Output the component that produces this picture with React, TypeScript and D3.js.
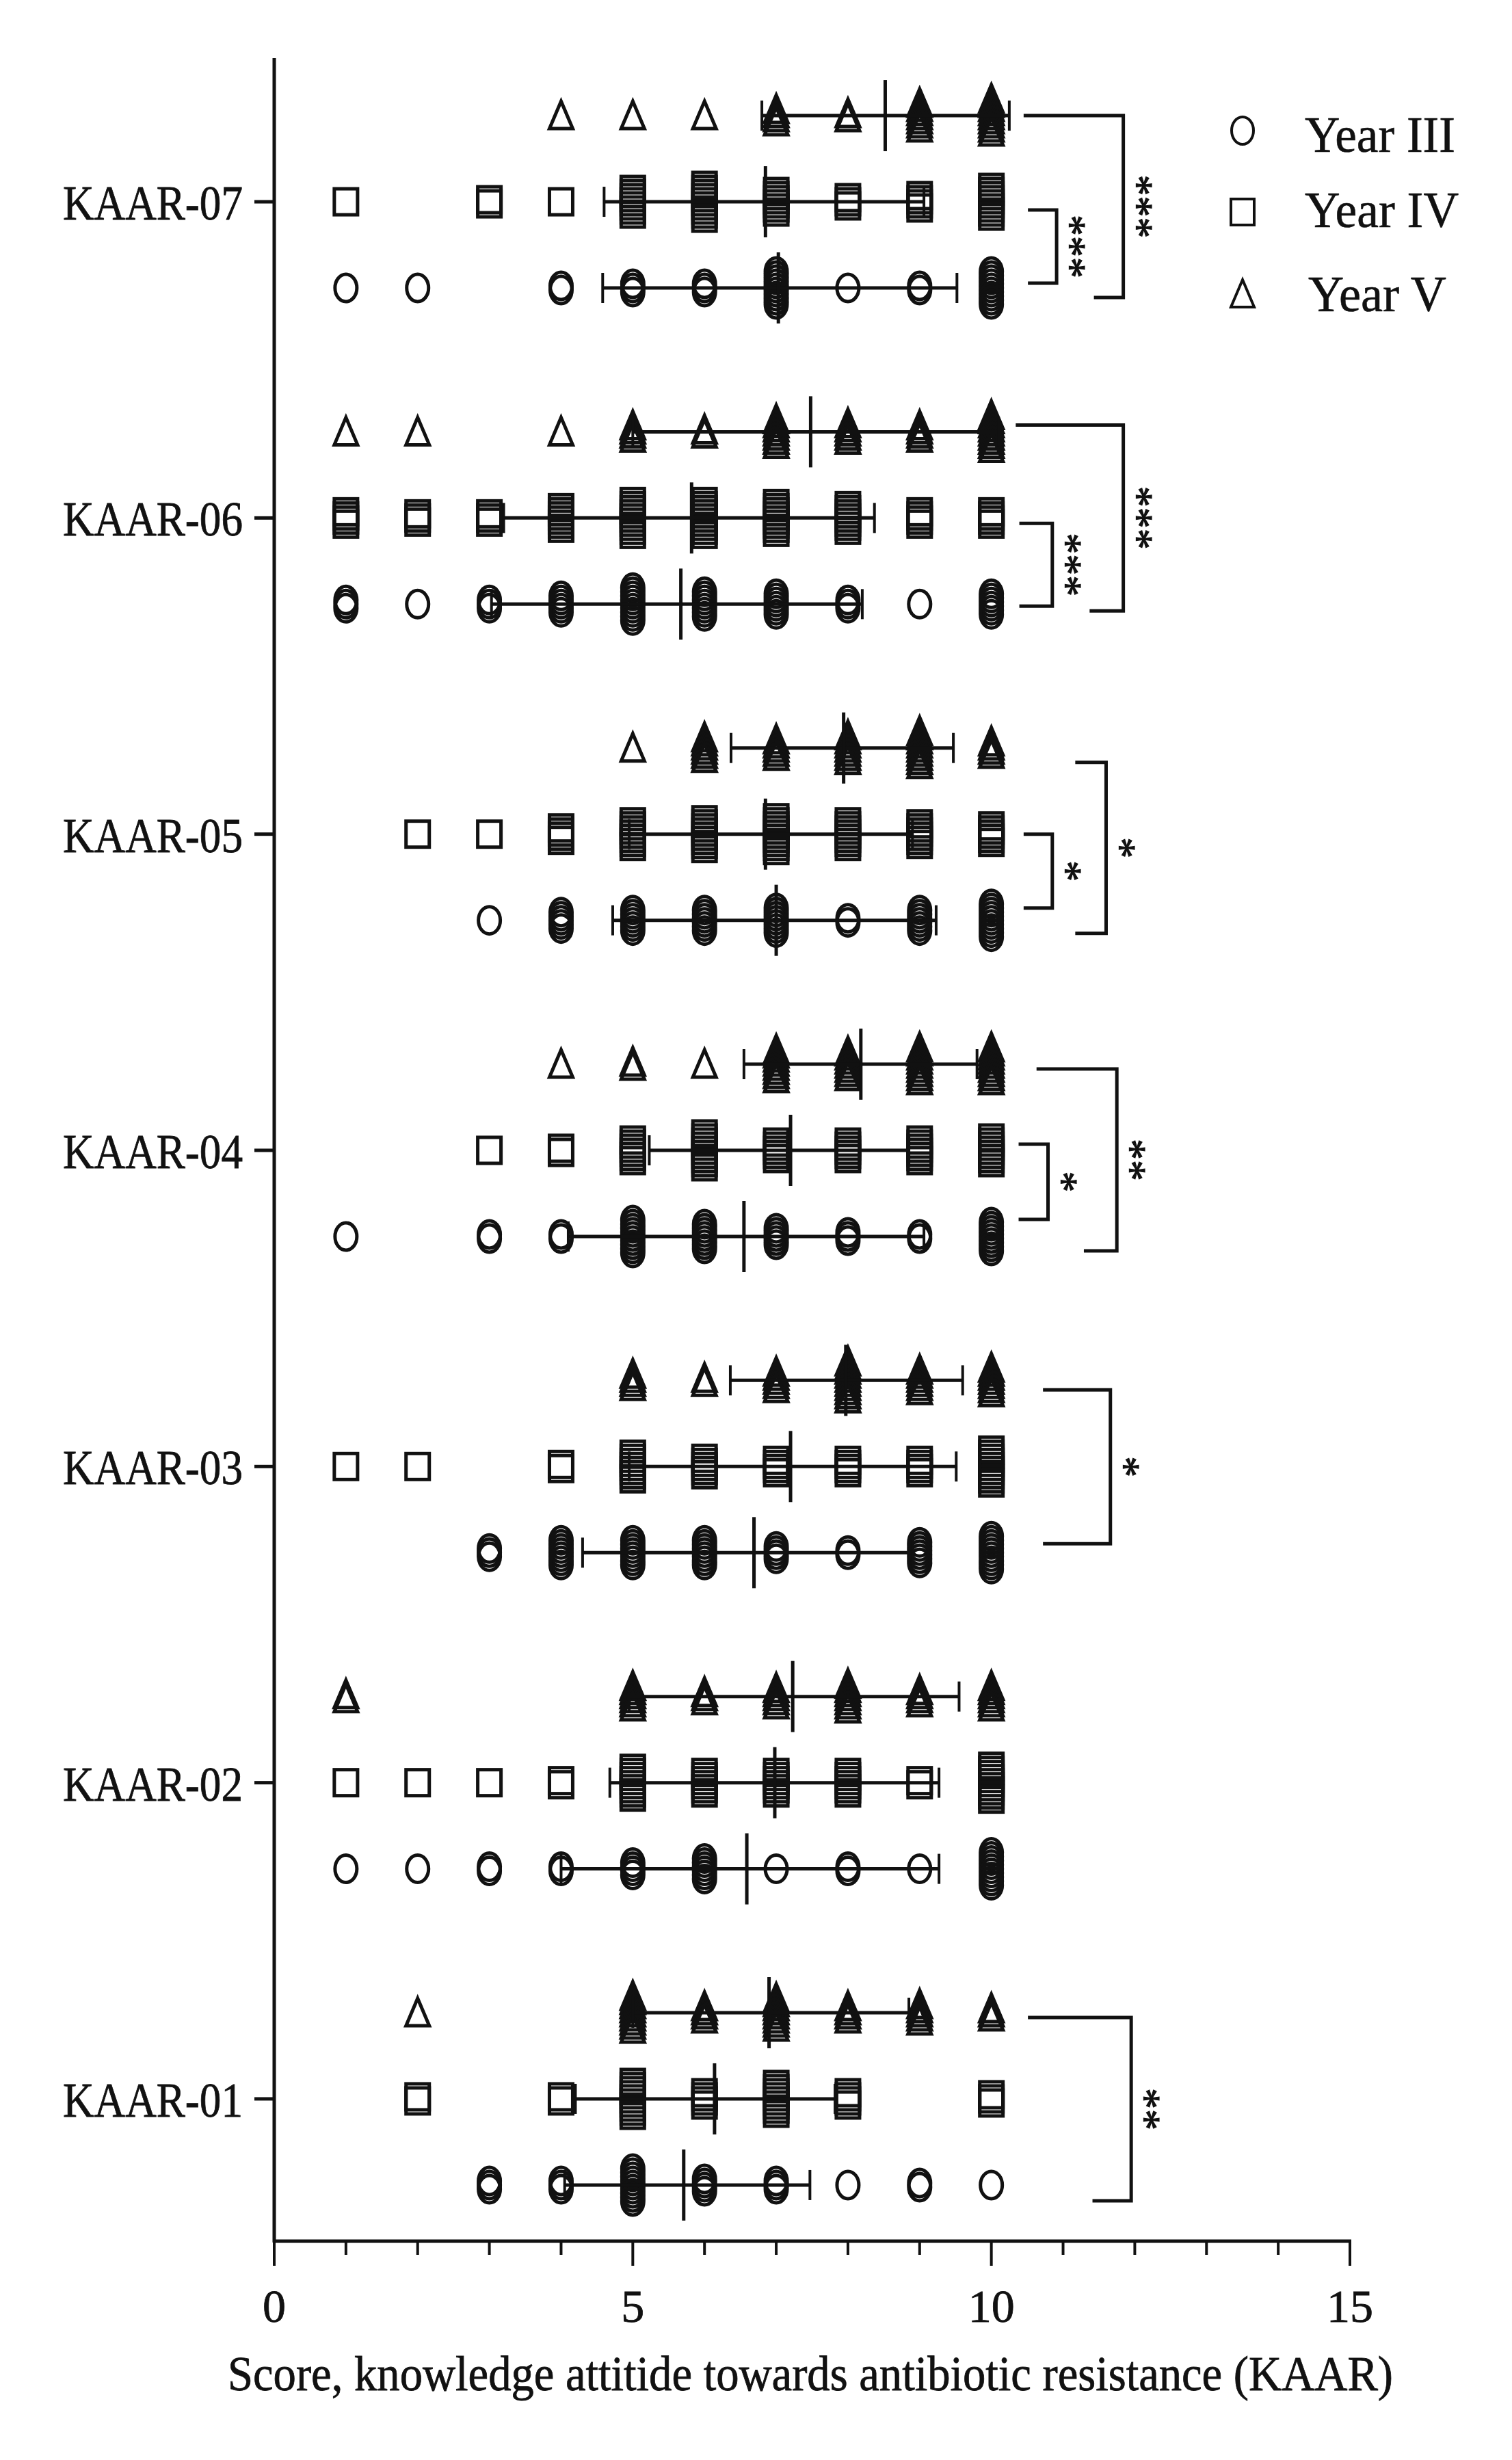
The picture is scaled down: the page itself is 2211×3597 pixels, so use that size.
import React from "react";
import * as d3 from "d3";

// ---------------- data ----------------
const ITEMS = ["KAAR-01", "KAAR-02", "KAAR-03", "KAAR-04", "KAAR-05", "KAAR-06", "KAAR-07"];
const YEARS = ["Year III", "Year IV", "Year V"];
const SCORES = [1, 2, 3, 4, 5, 6, 7, 8, 9, 10];
const X_TICK_LABELS = [0, 5, 10, 15];

// number of students at each score 1..10 (per item, order of ITEMS)
const COUNTS_YEAR_III = [
  [0, 0, 3, 3, 9, 4, 3, 1, 2, 1],
  [1, 1, 2, 2, 4, 6, 1, 2, 1, 9],
  [0, 0, 3, 7, 7, 7, 4, 2, 6, 9],
  [1, 0, 2, 2, 9, 7, 5, 3, 2, 8],
  [0, 0, 1, 5, 6, 6, 7, 2, 6, 9],
  [3, 1, 3, 5, 9, 7, 6, 3, 1, 6],
  [1, 1, 0, 2, 3, 3, 9, 1, 2, 9],
];
const COUNTS_YEAR_IV = [
  [0, 2, 0, 2, 9, 4, 8, 4, 0, 3],
  [1, 1, 1, 2, 8, 6, 6, 6, 2, 9],
  [1, 1, 0, 2, 7, 5, 4, 4, 4, 9],
  [0, 0, 1, 2, 6, 9, 5, 5, 6, 7],
  [0, 1, 1, 4, 7, 8, 9, 7, 6, 5],
  [4, 3, 3, 6, 9, 9, 8, 7, 4, 4],
  [1, 0, 2, 1, 7, 9, 6, 3, 4, 8],
];
const COUNTS_YEAR_V = [
  [0, 1, 0, 0, 9, 4, 8, 4, 5, 3],
  [2, 0, 0, 0, 6, 3, 5, 7, 4, 6],
  [0, 0, 0, 0, 4, 2, 5, 10, 6, 7],
  [0, 0, 0, 1, 2, 1, 8, 7, 9, 9],
  [0, 0, 0, 0, 1, 6, 5, 7, 9, 4],
  [1, 1, 0, 1, 4, 2, 7, 5, 4, 9],
  [0, 0, 0, 1, 1, 1, 4, 2, 7, 9],
];

// mean and mean ± SD (per item)
const MEAN_YEAR_III = [5.71, 6.59, 6.69, 6.55, 7.0, 5.67, 7.03];
const LOW_YEAR_III = [4.05, 4.0, 4.3, 4.1, 4.72, 3.03, 4.58];
const HIGH_YEAR_III = [7.47, 9.27, 8.9, 9.06, 9.23, 8.2, 9.52];
const MEAN_YEAR_IV = [6.14, 6.98, 7.2, 7.2, 6.85, 5.82, 6.85];
const LOW_YEAR_IV = [4.2, 4.68, 4.95, 5.23, 4.95, 3.2, 4.6];
const HIGH_YEAR_IV = [7.82, 9.27, 9.51, 8.85, 8.9, 8.37, 9.06];
const MEAN_YEAR_V = [6.9, 7.23, 7.97, 8.18, 7.94, 7.48, 8.52];
const LOW_YEAR_V = [5.0, 4.95, 6.36, 6.55, 6.37, 5.0, 6.8];
const HIGH_YEAR_V = [8.85, 9.55, 9.6, 9.8, 9.47, 10.1, 10.25];

// significance comparisons
const BRACKET_ITEMS = ["KAAR-07", "KAAR-07", "KAAR-06", "KAAR-06", "KAAR-05", "KAAR-05", "KAAR-04", "KAAR-04", "KAAR-03", "KAAR-01"];
const BRACKET_UPPER = ["Year IV", "Year V", "Year IV", "Year V", "Year IV", "Year V", "Year IV", "Year V", "Year V", "Year V"];
const BRACKET_LOWER = ["Year III", "Year III", "Year III", "Year III", "Year III", "Year III", "Year III", "Year III", "Year III", "Year III"];
const BRACKET_LABELS = ["***", "***", "***", "***", "*", "*", "*", "**", "*", "**"];

// ---------------- layout (not data) ----------------
const BRACKET_GEOM = [
  { xTop: 10.51, xBot: 10.51, xV: 10.91, dyTop: 12, dyBot: -7 },
  { xTop: 10.45, xBot: 11.43, xV: 11.84, dyTop: 0, dyBot: 14 },
  { xTop: 10.39, xBot: 10.39, xV: 10.85, dyTop: 8, dyBot: 3 },
  { xTop: 10.34, xBot: 11.37, xV: 11.84, dyTop: -10, dyBot: 10 },
  { xTop: 10.45, xBot: 10.45, xV: 10.85, dyTop: 0, dyBot: -18 },
  { xTop: 11.17, xBot: 11.17, xV: 11.6, dyTop: 21, dyBot: 19 },
  { xTop: 10.38, xBot: 10.38, xV: 10.79, dyTop: -9, dyBot: -25 },
  { xTop: 10.63, xBot: 11.29, xV: 11.75, dyTop: 7, dyBot: 21 },
  { xTop: 10.72, xBot: 10.72, xV: 11.66, dyTop: 14, dyBot: -13 },
  { xTop: 10.51, xBot: 11.41, xV: 11.95, dyTop: 7, dyBot: 23 },
];

const INK = "#111";
const FONT = "'Liberation Serif', 'Times New Roman', Times, serif";
const STEP = 6;

const SHAPES: Record<string, string> = { "Year III": "circle", "Year IV": "square", "Year V": "triangle" };
const SHIFT: Record<string, number> = { "Year III": -0.2725, "Year IV": 0, "Year V": 0.2725 };

function Marker({ shape, cx, cy, sw }: { shape: string; cx: number; cy: number; sw: number }) {
  if (shape === "circle")
    return <ellipse cx={cx} cy={cy} rx={16} ry={20} fill="none" stroke={INK} strokeWidth={sw} />;
  if (shape === "square")
    return <rect x={cx - 17} y={cy - 19} width={34} height={38} fill="none" stroke={INK} strokeWidth={sw} />;
  const p = d3.path();
  p.moveTo(cx, cy - 21);
  p.lineTo(cx + 17, cy + 19);
  p.lineTo(cx - 17, cy + 19);
  p.closePath();
  return <path d={p.toString()} fill="none" stroke={INK} strokeWidth={sw} strokeLinejoin="miter" />;
}

export default function App() {
  const W = 2211;
  const H = 3597;
  const x = d3.scaleLinear().domain([0, 15]).range([401, 1974]);
  const y = d3.scaleLinear().domain([0.55, 7.45]).range([3277, 87]);
  const axisY = y(0.55);
  const axisX = x(0);

  const groups = [
    { year: "Year III", counts: COUNTS_YEAR_III, mean: MEAN_YEAR_III, lo: LOW_YEAR_III, hi: HIGH_YEAR_III },
    { year: "Year IV", counts: COUNTS_YEAR_IV, mean: MEAN_YEAR_IV, lo: LOW_YEAR_IV, hi: HIGH_YEAR_IV },
    { year: "Year V", counts: COUNTS_YEAR_V, mean: MEAN_YEAR_V, lo: LOW_YEAR_V, hi: HIGH_YEAR_V },
  ];

  const rowY = (itemIdx: number, year: string) => y(itemIdx + 1 + SHIFT[year]);

  const markers: React.ReactNode[] = [];
  const bars: React.ReactNode[] = [];
  ITEMS.forEach((item, i) => {
    groups.forEach((g) => {
      const cy0 = rowY(i, g.year);
      SCORES.forEach((s, si) => {
        const n = g.counts[i][si];
        for (let k = 0; k < n; k++) {
          const cy = cy0 + (k - (n - 1) / 2) * STEP;
          markers.push(<Marker key={`${item}-${g.year}-${s}-${k}`} shape={SHAPES[g.year]} cx={x(s)} cy={cy} sw={5} />);
        }
      });
      const xl = x(g.lo[i]);
      const xh = x(g.hi[i]);
      const xm = x(g.mean[i]);
      bars.push(
        <g key={`bar-${item}-${g.year}`} stroke={INK}>
          <line x1={xl} x2={xh} y1={cy0} y2={cy0} strokeWidth={5} />
          <line x1={xl} x2={xl} y1={cy0 - 22} y2={cy0 + 22} strokeWidth={4} />
          <line x1={xh} x2={xh} y1={cy0 - 22} y2={cy0 + 22} strokeWidth={4} />
          <line x1={xm} x2={xm} y1={cy0 - 52} y2={cy0 + 52} strokeWidth={5} />
        </g>
      );
    });
  });

  const starFs = 62;
  const brackets = BRACKET_ITEMS.map((item, b) => {
    const i = ITEMS.indexOf(item);
    const gm = BRACKET_GEOM[b];
    const yTop = rowY(i, BRACKET_UPPER[b]) + gm.dyTop;
    const yBot = rowY(i, BRACKET_LOWER[b]) + gm.dyBot;
    const xv = x(gm.xV);
    const p = d3.path();
    p.moveTo(x(gm.xTop), yTop);
    p.lineTo(xv, yTop);
    p.lineTo(xv, yBot);
    p.lineTo(x(gm.xBot), yBot);
    const sx = xv + 31 - 0.48 * starFs;
    const sy = (yTop + yBot) / 2;
    return (
      <g key={`br-${b}`}>
        <path d={p.toString()} fill="none" stroke={INK} strokeWidth={5} />
        <text
          transform={`translate(${sx},${sy}) rotate(90)`}
          textAnchor="middle"
          fontFamily={FONT}
          fontSize={starFs}
          fill={INK}
          stroke={INK}
          strokeWidth={1.2}
        >
          {BRACKET_LABELS[b]}
        </text>
      </g>
    );
  });

  const minorTicks = x.ticks(15);
  const legendY = [191, 310, 430];
  const legendBase = [222, 332, 455];
  const legendLen = [220, 225, 202];

  return (
    <svg
      width={W}
      height={H}
      viewBox={`0 0 ${W} ${H}`}
      style={{ position: "absolute", left: 0, top: 0, background: "#fff" }}
    >
      <rect x={0} y={0} width={W} height={H} fill="#fff" />
      {/* y axis */}
      <line x1={axisX} x2={axisX} y1={85} y2={axisY + 2} stroke={INK} strokeWidth={5} />
      {ITEMS.map((item, i) => (
        <g key={`yt-${item}`}>
          <line x1={axisX - 29} x2={axisX} y1={y(i + 1)} y2={y(i + 1)} stroke={INK} strokeWidth={5} />
          <text
            x={355}
            y={y(i + 1) + 26}
            textAnchor="end"
            fontFamily={FONT}
            fontSize={72}
            textLength={263}
            lengthAdjust="spacingAndGlyphs"
            fill={INK}
            stroke={INK}
            strokeWidth={0.8}
          >
            {item}
          </text>
        </g>
      ))}
      {/* x axis */}
      <line x1={axisX - 2} x2={x(15) + 2} y1={axisY} y2={axisY} stroke={INK} strokeWidth={5} />
      {minorTicks.map((t) => (
        <line
          key={`xt-${t}`}
          x1={x(t)}
          x2={x(t)}
          y1={axisY}
          y2={axisY + (X_TICK_LABELS.includes(t) ? 36 : 20)}
          stroke={INK}
          strokeWidth={4}
        />
      ))}
      {X_TICK_LABELS.map((t) => (
        <text
          key={`xl-${t}`}
          x={x(t)}
          y={3395}
          textAnchor="middle"
          fontFamily={FONT}
          fontSize={68}
          fill={INK}
          stroke={INK}
          strokeWidth={0.8}
        >
          {t}
        </text>
      ))}
      <text
        x={1185}
        y={3495}
        textAnchor="middle"
        fontFamily={FONT}
        fontSize={72}
        textLength={1704}
        lengthAdjust="spacingAndGlyphs"
        fill={INK}
        stroke={INK}
        strokeWidth={0.8}
      >
        Score, knowledge attitide towards antibiotic resistance (KAAR)
      </text>
      {markers}
      {bars}
      {brackets}
      {/* legend */}
      {YEARS.map((yr, k) => (
        <g key={`lg-${yr}`}>
          <Marker shape={SHAPES[yr]} cx={1817} cy={legendY[k]} sw={4} />
          <text
            x={k === 2 ? 1913 : 1908}
            y={legendBase[k]}
            fontFamily={FONT}
            fontSize={74}
            textLength={legendLen[k]}
            lengthAdjust="spacingAndGlyphs"
            fill={INK}
            stroke={INK}
            strokeWidth={0.6}
          >
            {yr}
          </text>
        </g>
      ))}
    </svg>
  );
}
